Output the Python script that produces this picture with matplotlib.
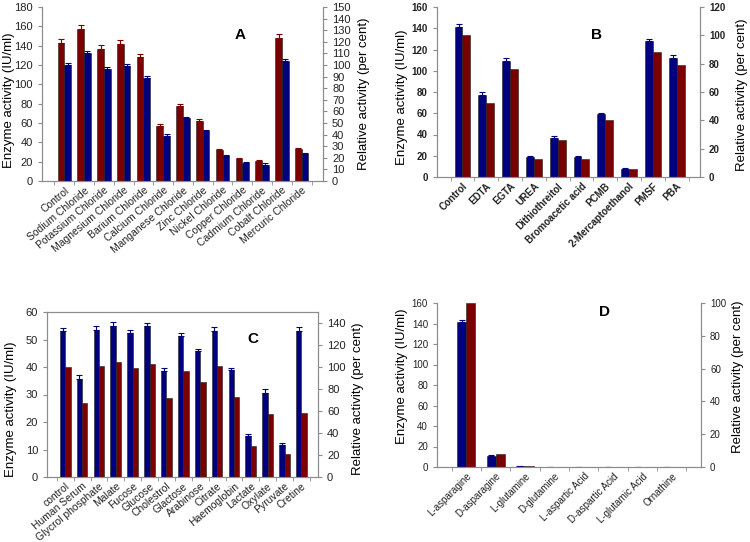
import matplotlib.pyplot as plt
import numpy as np

plt.rcParams['font.family'] = ['Liberation Sans', 'DejaVu Sans']

BLUE = '#00007f'
RED = '#7a0000'
GREY = '#8c8c8c'

# Panel A - metal ions
a_labels = ['Control', 'Sodium Chloride', 'Potassium Chloride', 'Magnesium Chloride',
            'Barium Chloride', 'Calcium Chloride', 'Manganese Chloride', 'Zinc Chloride',
            'Nickel Chloride', 'Copper Chloride', 'Cadmium Chloride', 'Cobalt Chloride',
            'Mercuric Chloride']
a_enzyme = [143, 157, 137, 142, 128, 57, 78, 62, 32, 23, 21, 148, 33]
a_enzyme_err = [4, 4, 4, 4, 3, 1.5, 1.5, 2, 1, 1, 1, 4, 1]
a_rel = [100, 110, 96.7, 99.2, 89.2, 39.2, 54.2, 43.3, 21.7, 15.8, 14.2, 103.3, 23.3]
a_rel_err = [2, 2, 2, 1.5, 1.5, 1, 1, 1, 1, 1, 1, 2, 1]

# Panel B - inhibitors
b_labels = ['Control', 'EDTA', 'EGTA', 'UREA', 'Dithiothreitol', 'Bromoacetic acid',
            'PCMB', '2-Mercaptoethanol', 'PMSF', 'PBA']
b_enzyme = [141, 77, 109, 19, 37, 19, 59, 8, 128, 112]
b_enzyme_err = [3, 3, 3, 1, 2, 1, 1.5, 0.5, 2, 3]
b_rel = [100, 52.5, 76.5, 12.75, 26.25, 12.75, 40.5, 6, 88.5, 78.75]

# Panel C - serum components
c_labels = ['control', 'Human Serum', 'Glycrol phosphate', 'Malate', 'Fucose', 'Glucose',
            'Cholestrol', 'Glactose', 'Arabinose', 'Citrate', 'Haemoglobin', 'Lactate',
            'Oxylate', 'Pyruvate', 'Cretine']
c_enzyme = [53, 35.5, 53.5, 55, 52.5, 55, 38.5, 51.3, 45.7, 53.2, 38.8, 15, 30.5, 11.7, 53]
c_enzyme_err = [1.2, 1.5, 1.5, 1.2, 1, 1, 1.3, 1, 1, 1.2, 0.8, 0.6, 1.5, 0.5, 1.5]
c_rel = [100, 67.5, 101.25, 104.25, 99.25, 103, 72, 96, 86.5, 100.5, 73, 28.25, 57, 20.75, 58]

# Panel D - substrates
d_labels = ['L-asparagine', 'D-asparagine', 'L-glutamine', 'D-glutamine',
            'L-aspartic Acid', 'D-aspartic Acid', 'L-glutamic Acid', 'Ornathine']
d_enzyme = [141, 11, 1, 0, 0, 0, 0, 0]
d_enzyme_err = [2, 0.5, 0.3, 0, 0, 0, 0, 0]
d_rel = [100, 7.8, 0.5, 0, 0, 0, 0, 0]


def px(x, y):
    return x / 750, 1 - y / 542


def panel(rect, labels, left_vals, left_err, right_vals, right_err,
          left_col, right_col, ylim1, yt1, ylim2, yt2, xlim, width,
          tick_size, xtick_size, rot, bold=False, box=False):
    x0, y0 = px(rect[0], rect[3])
    x1, y1 = px(rect[2], rect[1])
    ax = fig.add_axes([x0, y0, x1 - x0, y1 - y0])
    ax2 = ax.twinx()
    x = np.arange(len(labels))
    ax.bar(x - width / 2, left_vals, width, color=left_col, edgecolor='#202020', lw=0.4,
           yerr=[np.zeros(len(x)), left_err], error_kw=dict(ecolor=left_col, elinewidth=0.8,
                                                             capsize=2, capthick=0.8))
    if right_err is None:
        ax2.bar(x + width / 2, right_vals, width, color=right_col, edgecolor='#202020', lw=0.4)
    else:
        ax2.bar(x + width / 2, right_vals, width, color=right_col, edgecolor='#202020', lw=0.4,
                yerr=[np.zeros(len(x)), right_err],
                error_kw=dict(ecolor=right_col, elinewidth=0.8, capsize=2, capthick=0.8))
    ax.set_xlim(*xlim)
    ax.set_ylim(*ylim1)
    ax2.set_ylim(*ylim2)
    ax.set_yticks(yt1)
    ax2.set_yticks(yt2)
    w = 'bold' if bold else 'normal'
    ax.set_xticks(x)
    ax.set_xticklabels(labels, rotation=rot, ha='right', rotation_mode='anchor',
                       fontsize=xtick_size, fontweight=w, color='#222222')
    ax.set_xticks(np.arange(len(labels) + 1) - 0.5, minor=True)
    ax.tick_params(axis='x', which='major', length=0, pad=3)
    ax.tick_params(axis='x', which='minor', length=3, color=GREY)
    for a in (ax, ax2):
        a.tick_params(axis='y', labelsize=tick_size, color=GREY, length=3,
                      labelcolor='#222222')
        for s in a.spines.values():
            s.set_color(GREY)
        a.spines['top'].set_visible(box)
    for t in ax.get_yticklabels() + ax2.get_yticklabels():
        t.set_fontweight(w)
    return ax, ax2


fig = plt.figure(figsize=(7.5, 5.42), dpi=100)

# A
panel((42, 7, 323, 181), a_labels, a_enzyme, a_enzyme_err, a_rel, a_rel_err,
      RED, BLUE, (0, 180), range(0, 181, 20), (0, 150), range(0, 151, 10),
      (-1.13, 13.08), 0.34, 8, 7.5, 40)
fig.text(*px(240, 35), 'A', fontsize=11, fontweight='bold', ha='center', va='center')
fig.text(*px(9, 100), 'Enzyme activity (IU/ml)', rotation=90, fontsize=9.5,
         ha='center', va='center')
fig.text(*px(364, 94), 'Relative activity (per cent)', rotation=90, fontsize=9.5,
         ha='center', va='center')

# B
panel((437, 7, 700, 177), b_labels, b_enzyme, b_enzyme_err, b_rel, None,
      BLUE, RED, (0, 160), range(0, 161, 20), (0, 120), range(0, 121, 20),
      (-1.07, 9.98), 0.33, 7, 7, 45, bold=True)
fig.text(*px(597, 35), 'B', fontsize=11, fontweight='bold', ha='center', va='center')
fig.text(*px(402, 97), 'Enzyme activity (IU/ml)', rotation=90, fontsize=9.5,
         ha='center', va='center')
fig.text(*px(742, 95), 'Relative activity (per cent)', rotation=90, fontsize=9.5,
         ha='center', va='center')

# C
panel((47, 312, 318, 477), c_labels, c_enzyme, c_enzyme_err, c_rel, None,
      BLUE, RED, (0, 60), range(0, 61, 10), (0, 150), range(0, 141, 20),
      (-1.08, 14.98), 0.32, 8, 7.5, 40, box=True)
fig.text(*px(253, 339), 'C', fontsize=11, fontweight='bold', ha='center', va='center')
fig.text(*px(11, 409), 'Enzyme activity (IU/ml)', rotation=90, fontsize=9.5,
         ha='center', va='center')
fig.text(*px(358, 399), 'Relative activity (per cent)', rotation=90, fontsize=9.5,
         ha='center', va='center')

# D
panel((437, 303, 701, 467), d_labels, d_enzyme, d_enzyme_err, d_rel, None,
      BLUE, RED, (0, 160), range(0, 161, 20), (0, 100), range(0, 101, 20),
      (-1.0, 8.0), 0.31, 7, 7, 45)
fig.text(*px(604, 312), 'D', fontsize=11, fontweight='bold', ha='center', va='center')
fig.text(*px(402, 376), 'Enzyme activity (IU/ml)', rotation=90, fontsize=9.5,
         ha='center', va='center')
fig.text(*px(738, 377), 'Relative activity (per cent)', rotation=90, fontsize=9.5,
         ha='center', va='center')

plt.savefig('out.png', dpi=100)
